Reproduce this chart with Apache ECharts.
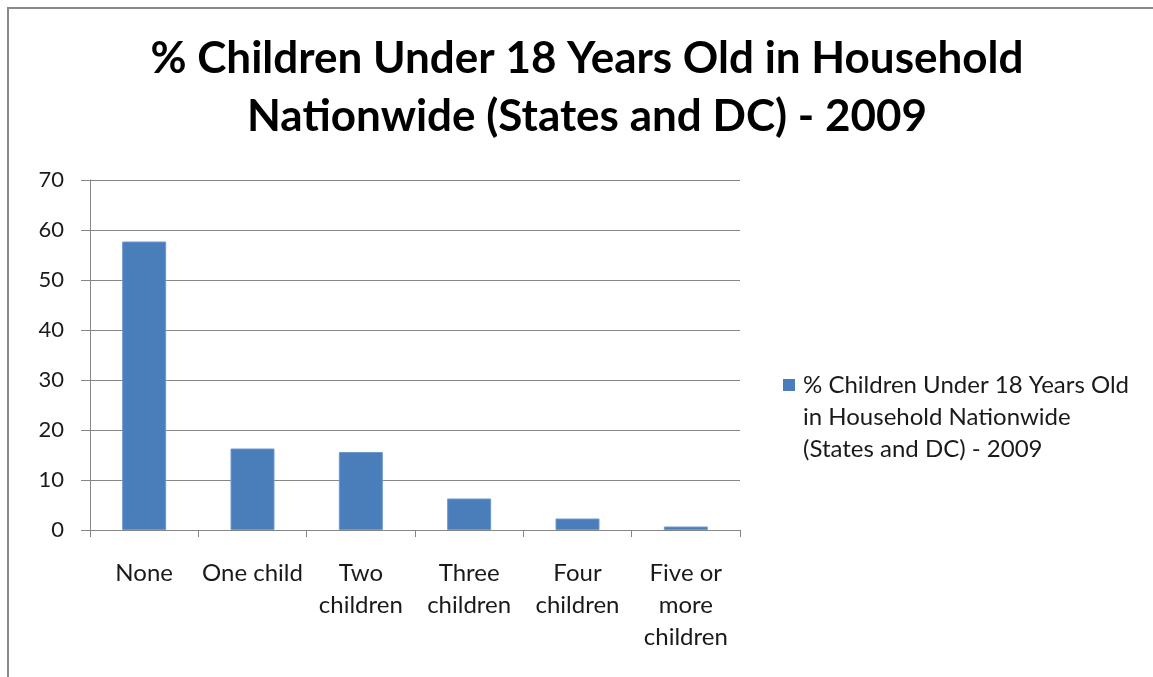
<!DOCTYPE html>
<html>
<head>
<meta charset="utf-8">
<script src="https://cdn.jsdelivr.net/npm/echarts@6/dist/echarts.min.js"></script>
<style>
  html, body { margin: 0; padding: 0; background: #fff; }
  #chart { width: 1153px; height: 677px; }
</style>
</head>
<body>
<div id="chart"></div>
<script>
// 数据
const titleText = '% Children Under 18 Years Old in Household\nNationwide (States and DC) - 2009'
const seriesName = '% Children Under 18 Years Old in Household Nationwide (States and DC) - 2009'
const legendLines = ['% Children Under 18 Years Old', 'in Household Nationwide', '(States and DC) - 2009']
const categories = ['None', 'One child', 'Two\nchildren', 'Three\nchildren', 'Four\nchildren', 'Five or\nmore\nchildren']
const values = [57.7, 16.3, 15.6, 6.3, 2.3, 0.7]

const font = 'Lato'
const barColor = '#4a7ebb'
const chart = echarts.init(document.getElementById('chart'))

chart.setOption({
    animation: false,
    backgroundColor: '#fff',
    title: {
        text: titleText,
        left: 587,
        top: 30,
        padding: 0,
        textAlign: 'center',
        textStyle: {
            fontFamily: font,
            fontWeight: 'bold',
            fontSize: 44,
            lineHeight: 58,
            color: '#000'
        }
    },
    grid: {
        left: 90,
        right: 413,
        top: 180,
        bottom: 147
    },
    xAxis: {
        type: 'category',
        data: categories,
        axisLine: { lineStyle: { color: '#868686', width: 1 } },
        axisTick: { show: true, length: 7, lineStyle: { color: '#868686' } },
        axisLabel: {
            fontFamily: font,
            fontSize: 24,
            lineHeight: 32,
            color: '#1a1a1a',
            margin: 27,
            interval: 0
        }
    },
    yAxis: {
        type: 'value',
        min: 0,
        max: 70,
        interval: 10,
        axisLine: { show: true, lineStyle: { color: '#868686', width: 1 } },
        axisTick: { show: true, length: 9, lineStyle: { color: '#868686' } },
        splitLine: { lineStyle: { color: '#868686', width: 1 } },
        axisLabel: {
            fontFamily: font,
            fontSize: 22,
            color: '#1a1a1a',
            margin: 26
        }
    },
    series: [
        {
            name: seriesName,
            type: 'bar',
            data: values,
            barWidth: 44,
            itemStyle: {
                color: barColor,
                borderColor: '#6f98cc',
                borderWidth: 1
            }
        }
    ],
    graphic: [
        {
            type: 'rect',
            shape: { x: 8, y: 8, width: 1400, height: 900 },
            style: { fill: 'none', stroke: '#8a8a8a', lineWidth: 2 },
            silent: true
        },
        // 图例（图标对齐第一行）
        {
            type: 'rect',
            shape: { x: 783, y: 379, width: 12, height: 12 },
            style: { fill: barColor }
        },
        {
            type: 'text',
            x: 803,
            y: 369,
            style: {
                text: legendLines.join('\n'),
                fontFamily: font,
                fontSize: 24,
                lineHeight: 32,
                fill: '#1a1a1a',
                verticalAlign: 'top'
            }
        }
    ]
})
</script>
</body>
</html>
